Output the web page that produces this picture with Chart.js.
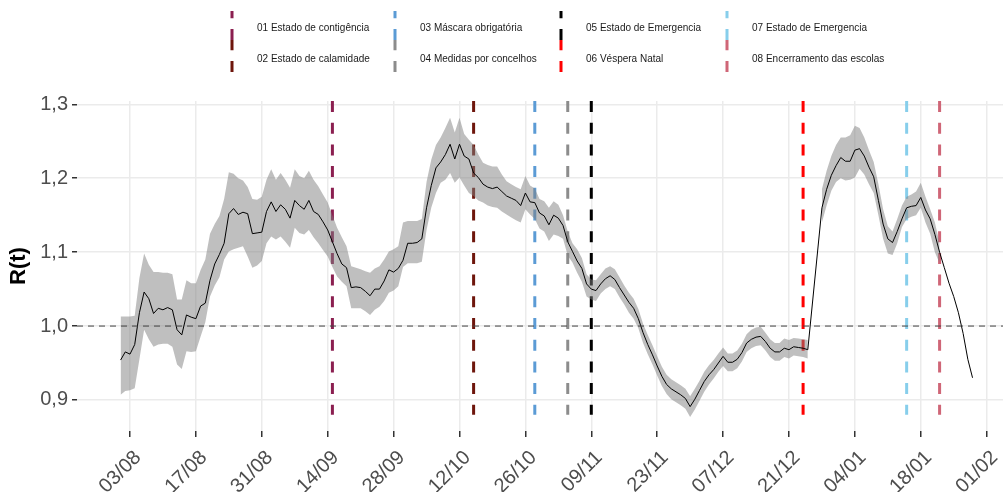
<!DOCTYPE html>
<html>
<head>
<meta charset="utf-8">
<script src="https://cdn.jsdelivr.net/npm/chart.js@4.4.1/dist/chart.umd.min.js"></script>
<style>
  html, body { margin: 0; padding: 0; background: #fff; }
  #wrap { width: 1003px; height: 492px; }
</style>
</head>
<body>
<div id="wrap"><canvas id="rtChart" width="1003" height="492"></canvas></div>
<script>
const FONT = '"Liberation Sans", Arial, sans-serif';

// R(t) diário a partir de 01/08/2020 (null = sem estimativa)
const startDate = '2020-08-01';

const rt = [
  0.954, 0.965, 0.962, 0.975, 1.018, 1.046, 1.037, 1.017, 1.024, 1.022,
  1.025, 1.022, 0.995, 0.988, 1.015, 1.012, 1.010, 1.027, 1.031, 1.062,
  1.084, 1.097, 1.112, 1.152, 1.159, 1.151, 1.154, 1.152, 1.125, 1.126,
  1.127, 1.155, 1.168, 1.155, 1.164, 1.158, 1.146, 1.170, 1.163, 1.158,
  1.170, 1.155, 1.151, 1.141, 1.130, 1.114, 1.098, 1.084, 1.079, 1.052,
  1.053, 1.052, 1.047, 1.041, 1.050, 1.050, 1.061, 1.076, 1.073, 1.078,
  1.089, 1.112, 1.112, 1.113, 1.118, 1.160, 1.190, 1.214, 1.222, 1.232,
  1.246, 1.226, 1.246, 1.230, 1.226, 1.207, 1.201, 1.192, 1.188, 1.186,
  1.188, 1.182, 1.176, 1.173, 1.170, 1.163, 1.180, 1.168, 1.167, 1.153,
  1.149, 1.137, 1.150, 1.146, 1.136, 1.114, 1.101, 1.088, 1.078, 1.057,
  1.050, 1.048, 1.057, 1.064, 1.068, 1.063, 1.052, 1.042, 1.032, 1.024,
  1.010, 0.991, 0.975, 0.961, 0.946, 0.932, 0.921, 0.915, 0.911, 0.907,
  0.902, 0.891, 0.901, 0.913, 0.925, 0.934, 0.941, 0.950, 0.959, 0.951,
  0.951, 0.955, 0.964, 0.977, 0.982, 0.985, 0.986, 0.979, 0.970, 0.965,
  0.965, 0.970, 0.968, 0.972, 0.971, 0.970, 0.968, null, null, 1.160,
  1.185, 1.204, 1.217, 1.228, 1.223, 1.223, 1.238, 1.240, 1.230, 1.215,
  1.202, 1.170, 1.138, 1.118, 1.113, 1.128, 1.145, 1.160, 1.162, 1.163,
  1.174, 1.157, 1.145, 1.124, 1.100, 1.079, 1.058, 1.040, 1.018, 0.990,
  0.955, 0.930
];

const rtLow = [
  0.907, 0.912, 0.913, 0.916, 0.955, 0.995, 0.982, 0.972, 0.975, 0.976,
  0.976, 0.972, 0.948, 0.942, 0.966, 0.965, 0.966, 0.986, 1.005, 1.040,
  1.055, 1.066, 1.090, 1.101, 1.104, 1.106, 1.108, 1.094, 1.079, 1.082,
  1.088, 1.112, 1.121, 1.117, 1.121, 1.114, 1.106, 1.133, 1.126, 1.124,
  1.130, 1.120, 1.112, 1.103, 1.094, 1.080, 1.067, 1.060, 1.054, 1.024,
  1.024, 1.024, 1.020, 1.015, 1.022, 1.026, 1.034, 1.045, 1.048, 1.054,
  1.080, 1.085, 1.085, 1.085, 1.087, 1.130, 1.160, 1.180, 1.194, 1.198,
  1.207, 1.194, 1.201, 1.190, 1.180, 1.176, 1.170, 1.167, 1.163, 1.161,
  1.160, 1.155, 1.151, 1.147, 1.143, 1.140, 1.158, 1.151, 1.145, 1.132,
  1.128, 1.115, 1.124, 1.122, 1.118, 1.095, 1.086, 1.072, 1.060, 1.040,
  1.036, 1.034, 1.044, 1.050, 1.054, 1.050, 1.039, 1.029, 1.018, 1.010,
  0.997, 0.977, 0.962, 0.948, 0.933, 0.919, 0.908, 0.901, 0.897, 0.893,
  0.888, 0.877, 0.887, 0.899, 0.911, 0.921, 0.929, 0.938, 0.946, 0.939,
  0.939, 0.943, 0.952, 0.965, 0.970, 0.973, 0.974, 0.967, 0.958, 0.953,
  0.953, 0.958, 0.956, 0.960, 0.959, 0.958, 0.956, null, null, 1.140,
  1.163, 1.183, 1.195, 1.200, 1.197, 1.198, 1.201, 1.213, 1.205, 1.192,
  1.180, 1.150, 1.118, 1.098, 1.096, 1.112, 1.134, 1.145, 1.148, 1.150,
  1.160, 1.140, 1.125, 1.100, 1.085, null, null, null, null, null,
  null, null
];

const rtHigh = [
  1.013, 1.013, 1.013, 1.014, 1.065, 1.098, 1.083, 1.073, 1.073, 1.072,
  1.072, 1.070, 1.036, 1.036, 1.062, 1.058, 1.058, 1.076, 1.090, 1.125,
  1.138, 1.149, 1.172, 1.208, 1.206, 1.200, 1.197, 1.188, 1.172, 1.171,
  1.175, 1.198, 1.212, 1.198, 1.207, 1.198, 1.187, 1.212, 1.203, 1.200,
  1.210, 1.198, 1.189, 1.178, 1.167, 1.150, 1.133, 1.120, 1.108, 1.081,
  1.079, 1.077, 1.074, 1.072, 1.078, 1.081, 1.090, 1.101, 1.104, 1.108,
  1.140, 1.142, 1.142, 1.142, 1.145, 1.195, 1.225, 1.245, 1.255, 1.268,
  1.282, 1.262, 1.282, 1.260, 1.252, 1.245, 1.232, 1.221, 1.218, 1.216,
  1.216, 1.205, 1.196, 1.192, 1.188, 1.185, 1.203, 1.190, 1.186, 1.172,
  1.169, 1.160, 1.169, 1.164, 1.150, 1.128, 1.112, 1.104, 1.092, 1.070,
  1.063, 1.062, 1.070, 1.078, 1.081, 1.077, 1.066, 1.055, 1.045, 1.037,
  1.023, 1.003, 0.988, 0.974, 0.959, 0.945, 0.934, 0.928, 0.924, 0.920,
  0.915, 0.905, 0.915, 0.926, 0.938, 0.947, 0.954, 0.963, 0.971, 0.963,
  0.963, 0.967, 0.976, 0.989, 0.995, 0.998, 0.999, 0.991, 0.982, 0.977,
  0.977, 0.983, 0.981, 0.984, 0.983, 0.982, 0.981, null, null, 1.185,
  1.210, 1.230, 1.245, 1.255, 1.255, 1.258, 1.271, 1.268, 1.255, 1.238,
  1.222, 1.192, 1.158, 1.135, 1.128, 1.145, 1.163, 1.175, 1.178, 1.182,
  1.194, 1.175, 1.158, 1.140, 1.112, null, null, null, null, null,
  null, null
];

const tickLabels = ['03/08', '17/08', '31/08', '14/09', '28/09', '12/10', '26/10',
  '09/11', '23/11', '07/12', '21/12', '04/01', '18/01', '01/02'];
const yTicks = [0.9, 1.0, 1.1, 1.2, 1.3];

const eventLabels = [
  '01 Estado de contigência', '02 Estado de calamidade',
  '03 Máscara obrigatória', '04 Medidas por concelhos',
  '05 Estado de Emergencia', '06 Véspera Natal',
  '07 Estado de Emergencia', '08 Encerramento das escolas'
];
const eventDates = ['2020-09-15', '2020-10-15', '2020-10-28', '2020-11-04',
  '2020-11-09', '2020-12-24', '2021-01-15', '2021-01-22'];
const eventColors = ['#8b1f50', '#6e160c', '#5b9bd5', '#8c8c8c',
  '#000000', '#ff0000', '#87ceeb', '#cf6677'];

// dias contados a partir de 03/08/2020
const refDay = Date.UTC(2020, 7, 3);
function dayOf(iso) {
  const [y, m, d] = iso.split('-').map(Number);
  return Math.round((Date.UTC(y, m - 1, d) - refDay) / 86400000);
}
function tickDay(label) {
  const [d, m] = label.split('/').map(Number);
  return dayOf((m >= 7 ? 2020 : 2021) + '-' + m + '-' + d);
}
const x0 = dayOf(startDate);
const toPoints = arr => arr.map((v, i) => ({ x: x0 + i, y: v }));

const refLines = {
  id: 'refLines',
  beforeDatasetsDraw(chart) {
    const { ctx, chartArea: a, scales: { x, y } } = chart;
    ctx.save();
    ctx.lineWidth = 3;
    ctx.setLineDash([11, 10.7]);
    eventDates.forEach((d, i) => {
      const px = x.getPixelForValue(dayOf(d));
      ctx.strokeStyle = eventColors[i];
      ctx.beginPath();
      ctx.moveTo(px, a.top);
      ctx.lineTo(px, y.getPixelForValue(0.88));
      ctx.stroke();
    });
    ctx.restore();
  },
  afterDatasetsDraw(chart) {
    // linha de referência R = 1
    const { ctx, chartArea: a, scales: { y } } = chart;
    const py = y.getPixelForValue(1);
    ctx.save();
    ctx.strokeStyle = '#444';
    ctx.lineWidth = 1;
    ctx.setLineDash([6, 5]);
    ctx.beginPath();
    ctx.moveTo(a.left, py);
    ctx.lineTo(a.right, py);
    ctx.stroke();
    ctx.restore();
  },
  afterDraw(chart) {
    // legenda em 4 colunas x 2 linhas
    const ctx = chart.ctx;
    const colX = [232, 395, 561, 727];
    ctx.save();
    ctx.font = '10px ' + FONT;
    ctx.textBaseline = 'middle';
    ctx.fillStyle = '#1a1a1a';
    eventLabels.forEach((lab, i) => {
      const col = Math.floor(i / 2), row = i % 2;
      const kx = colX[col];
      const yBottom = row === 0 ? 40 : 72;
      const yTop = row === 0 ? 11 : 40;
      ctx.strokeStyle = eventColors[i];
      ctx.lineWidth = 3;
      ctx.setLineDash([11, 10.7]);
      ctx.beginPath();
      ctx.moveTo(kx, yBottom);
      ctx.lineTo(kx, yTop);
      ctx.stroke();
      ctx.fillText(lab, kx + 25, row === 0 ? 28 : 59);
    });
    ctx.restore();
  }
};

new Chart(document.getElementById('rtChart'), {
  type: 'line',
  data: {
    datasets: [
      {
        label: 'R(t)',
        data: toPoints(rt),
        borderColor: '#000',
        borderWidth: 1,
        pointRadius: 0,
        spanGaps: true,
        fill: false,
        order: 0
      },
      {
        label: 'IC sup',
        data: toPoints(rtHigh),
        borderColor: 'rgba(0,0,0,0)',
        borderWidth: 0,
        pointRadius: 0,
        spanGaps: false,
        fill: '+1',
        backgroundColor: 'rgba(128,128,128,0.5)',
        order: 1
      },
      {
        label: 'IC inf',
        data: toPoints(rtLow),
        borderColor: 'rgba(0,0,0,0)',
        borderWidth: 0,
        pointRadius: 0,
        spanGaps: false,
        fill: false,
        order: 2
      }
    ]
  },
  options: {
    responsive: false,
    animation: false,
    layout: { padding: { top: 101, left: 0, right: 0, bottom: 0 }, autoPadding: false },
    plugins: { legend: { display: false }, tooltip: { enabled: false } },
    scales: {
      x: {
        type: 'linear',
        min: -11.26,
        max: 185.47,
        afterBuildTicks: s => { s.ticks = tickLabels.map(l => ({ value: tickDay(l) })); },
        afterFit: s => { s.height = 61; s.paddingLeft = 0; s.paddingRight = 0; },
        grid: { color: '#ebebeb', lineWidth: 1.5, tickColor: '#333', tickLength: 6, tickWidth: 1.5 },
        border: { display: false },
        ticks: {
          font: { family: FONT, size: 20 },
          color: '#4d4d4d',
          minRotation: 45,
          maxRotation: 45,
          autoSkip: false,
          padding: 9,
          labelOffset: 8,
          callback: (v, i) => tickLabels[i]
        }
      },
      y: {
        min: 0.858,
        max: 1.3045,
        afterBuildTicks: s => { s.ticks = yTicks.map(v => ({ value: v })); },
        afterFit: s => { s.width = 77; s.paddingTop = 0; s.paddingBottom = 0; },
        grid: { color: '#ebebeb', lineWidth: 1.5, tickColor: '#333', tickLength: 5, tickWidth: 1.5 },
        border: { display: false },
        ticks: {
          font: { family: FONT, size: 20 },
          color: '#4d4d4d',
          padding: 4,
          callback: v => v.toFixed(1).replace('.', ',')
        },
        title: {
          display: true,
          text: 'R(t)',
          color: '#000',
          font: { family: FONT, size: 22, weight: 'bold' },
          padding: { top: 6, bottom: 0 }
        }
      }
    }
  },
  plugins: [refLines]
});
</script>
</body>
</html>
